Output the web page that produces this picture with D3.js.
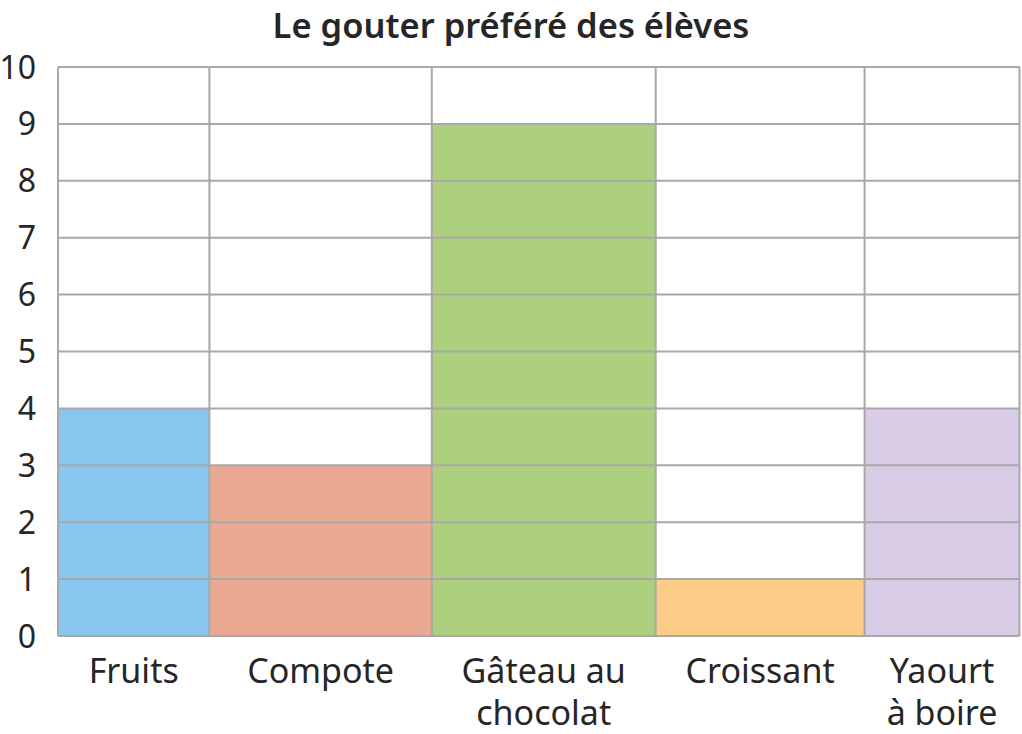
<!DOCTYPE html>
<html lang="fr">
<head>
    <meta charset="UTF-8">
    <title>Le gouter préféré des élèves</title>
    <script src="https://d3js.org/d3.v7.min.js"></script>
    <style>
        body { margin: 0; background: #fff; }
        svg text { font-family: "Noto Sans", "Open Sans", sans-serif; fill: #262626; }
        .chart-title { font-size: 34.5px; font-weight: 600; text-anchor: middle; }
        .tick-label { font-size: 32px; text-anchor: end; }
        .cat-label { font-size: 34px; text-anchor: middle; }
        .grid line { stroke: #a8a8a8; stroke-width: 2; }
    </style>
</head>
<body>
    <svg id="chart"></svg>

    <script>
        // Data
        const categories = ["Fruits", "Compote", "Gâteau au chocolat", "Croissant", "Yaourt à boire"];
        const labelLines = [["Fruits"], ["Compote"], ["Gâteau au", "chocolat"], ["Croissant"], ["Yaourt", "à boire"]];
        const values = [4, 3, 9, 1, 4];
        const yTicks = [0, 1, 2, 3, 4, 5, 6, 7, 8, 9, 10];
        const colors = ["#88c6ed", "#eba993", "#acd07e", "#fccc88", "#d8cce6"];

        // Layout: relative column widths (the columns are not equal)
        const colWeights = [151.5, 222.5, 224, 209, 155];

        const width = 1022;
        const height = 734;
        const margin = { top: 67, right: 2.5, bottom: 98, left: 58 };

        const svg = d3.select("#chart")
            .attr("width", width)
            .attr("height", height);

        // cumulative edges of columns
        const edges = [0];
        colWeights.forEach(w => edges.push(edges[edges.length - 1] + w));

        const x = d3.scaleLinear()
            .domain([0, edges[edges.length - 1]])
            .range([margin.left, width - margin.right]);

        const y = d3.scaleLinear()
            .domain([0, 10])
            .range([height - margin.bottom, margin.top]);

        // Bars
        svg.append("g")
            .selectAll("rect")
            .data(values)
            .enter()
            .append("rect")
            .attr("x", (d, i) => x(edges[i]))
            .attr("width", (d, i) => x(edges[i + 1]) - x(edges[i]))
            .attr("y", d => y(d))
            .attr("height", d => y(0) - y(d))
            .attr("fill", (d, i) => colors[i]);

        // Grid on top of bars
        const grid = svg.append("g").attr("class", "grid");
        grid.selectAll(".h")
            .data(yTicks)
            .enter()
            .append("line")
            .attr("x1", x.range()[0])
            .attr("x2", x.range()[1])
            .attr("y1", d => y(d))
            .attr("y2", d => y(d));
        grid.selectAll(".v")
            .data(edges)
            .enter()
            .append("line")
            .attr("x1", d => x(d))
            .attr("x2", d => x(d))
            .attr("y1", y(0))
            .attr("y2", y(10));

        // Y tick labels
        svg.append("g")
            .selectAll("text")
            .data(yTicks)
            .enter()
            .append("text")
            .attr("class", "tick-label")
            .attr("x", 36)
            .attr("y", d => y(d))
            .attr("dy", "0.36em")
            .text(d => d);

        // Category labels
        const cats = svg.append("g")
            .selectAll("text")
            .data(categories)
            .enter()
            .append("text")
            .attr("class", "cat-label")
            .attr("x", (d, i) => x((edges[i] + edges[i + 1]) / 2))
            .attr("y", 683);
        cats.selectAll("tspan")
            .data((d, i) => labelLines[i])
            .enter()
            .append("tspan")
            .attr("x", function() { return d3.select(this.parentNode).attr("x"); })
            .attr("dy", (d, j) => j === 0 ? 0 : 42)
            .text(d => d);

        // Title
        svg.append("text")
            .attr("class", "chart-title")
            .attr("x", 511)
            .attr("y", 38)
            .text("Le gouter préféré des élèves");
    </script>
</body>
</html>
